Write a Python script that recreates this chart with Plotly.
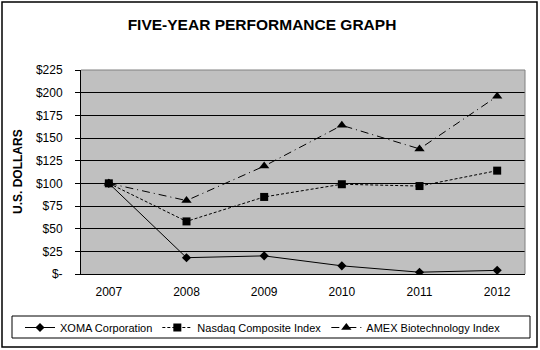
import plotly.graph_objects as go

years = ["2007", "2008", "2009", "2010", "2011", "2012"]
xoma = [100, 18, 20, 9, 2, 4]
nasdaq = [100, 58, 85, 99, 97, 114]
amex = [100, 81, 119, 164, 138, 196]
ytick_vals = [0, 25, 50, 75, 100, 125, 150, 175, 200, 225]
ytick_text = ["$-", "$25", "$50", "$75", "$100", "$125", "$150", "$175", "$200", "$225"]
series_names = ["XOMA Corporation", "Nasdaq Composite Index", "AMEX Biotechnology Index"]

W, H = 540, 350
L, R, T, B = 81, 15, 70, 76
pw, ph = W - L - R, H - T - B

def px_x(x):
    return (x - L) / pw

def px_y(y):
    return (H - B - y) / ph

FONT = "Liberation Sans, Arial, sans-serif"

fig = go.Figure()
fig.add_trace(go.Scatter(x=years, y=xoma, name=series_names[0], mode="lines+markers",
                         line=dict(color="black", width=1, dash="solid"),
                         marker=dict(symbol="diamond", size=7, color="black")))
fig.add_trace(go.Scatter(x=years, y=nasdaq, name=series_names[1], mode="lines+markers",
                         line=dict(color="black", width=1, dash="3px,2px"),
                         marker=dict(symbol="square", size=8, color="black")))
fig.add_trace(go.Scatter(x=years, y=amex, name=series_names[2], mode="lines+markers",
                         line=dict(color="black", width=1, dash="8px,4px,1px,4px"),
                         marker=dict(symbol="triangle-up", size=9, color="black")))

fig.update_layout(
    width=W, height=H,
    margin=dict(l=L, r=R, t=T, b=B, autoexpand=False),
    paper_bgcolor="white",
    plot_bgcolor="#c0c0c0",
    font=dict(family=FONT, size=12, color="black"),
    title=dict(text="<b>FIVE-YEAR PERFORMANCE GRAPH</b>", xref="container", x=262 / W, xanchor="center",
               yref="container", y=1 - 25 / H, yanchor="middle", font=dict(size=15.5, family=FONT)),
    showlegend=True,
    legend=dict(orientation="h", xref="paper", x=px_x(20), xanchor="left",
                yref="paper", y=px_y(313), yanchor="top",
                borderwidth=0, bgcolor="rgba(0,0,0,0)",
                font=dict(size=11, family=FONT), itemwidth=30, tracegroupgap=0),
    xaxis=dict(showgrid=False, showline=True, linecolor="black", linewidth=1,
               ticks="", tickfont=dict(size=12), mirror=False, fixedrange=True,
               ticklabelstandoff=7),
    yaxis=dict(range=[0, 225], tickvals=ytick_vals, ticktext=ytick_text,
               showgrid=True, gridcolor="black", gridwidth=1,
               showline=True, linecolor="black", linewidth=1,
               ticks="outside", ticklen=5, tickcolor="black", tickfont=dict(size=12),
               ticklabelstandoff=10, zeroline=False, fixedrange=True),
    annotations=[dict(text="<b>U.S. DOLLARS</b>", xref="paper", yref="paper",
                      x=px_x(18), y=px_y(172), textangle=-90, showarrow=False,
                      xanchor="center", yanchor="middle", font=dict(size=12, family=FONT))],
    shapes=[
        dict(type="rect", xref="paper", yref="paper",
             x0=px_x(2), x1=px_x(537), y0=px_y(347), y1=px_y(2),
             line=dict(color="black", width=1.5), fillcolor="rgba(0,0,0,0)", layer="below"),
        dict(type="rect", xref="paper", yref="paper",
             x0=px_x(12), x1=px_x(530), y0=px_y(338), y1=px_y(316),
             line=dict(color="black", width=1), fillcolor="rgba(0,0,0,0)", layer="below"),
        dict(type="line", xref="paper", yref="paper", x0=1, x1=1, y0=0, y1=1,
             line=dict(color="#808080", width=1)),
        dict(type="line", xref="paper", yref="paper", x0=0, x1=1, y0=1, y1=1,
             line=dict(color="#808080", width=1)),
    ],
)

fig.write_html("out.html")
